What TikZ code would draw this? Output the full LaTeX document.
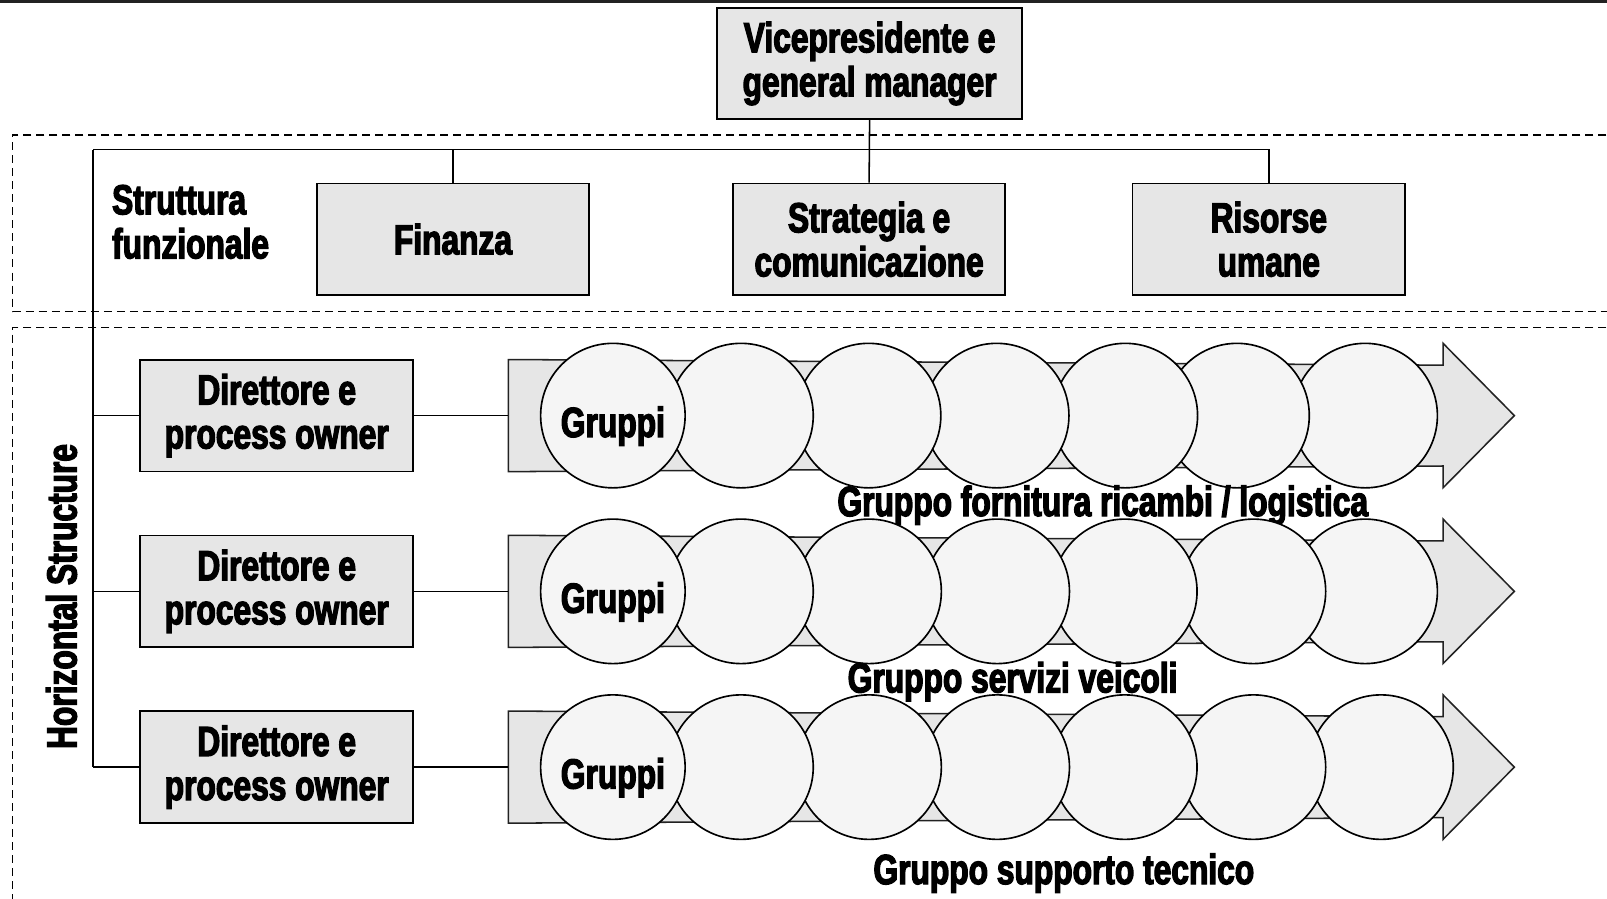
\documentclass[tikz,border=0pt]{standalone}
\usepackage{fontspec}
\newfontfamily\imp{Liberation Sans}[FakeStretch=0.755,BoldFeatures={FakeBold=3}]
\usetikzlibrary{calc,shapes.geometric}
\definecolor{boxgray}{HTML}{E6E6E6}
\definecolor{circgray}{HTML}{F5F5F5}
\definecolor{edgegray}{HTML}{222222}
\tikzset{
  txt/.style={font=\imp\bfseries\fontsize{20.5}{21.5}\selectfont, align=center, inner sep=0pt},
  ubox/.style={txt, draw=black, line width=0.9pt, fill=boxgray, minimum width=133pt, minimum height=54.5pt},
  conn/.style={draw=black, line width=0.75pt},
  dashbox/.style={draw=black, line width=0.65pt, dash pattern=on 3.9pt off 2.45pt},
  grp/.style={draw=black, line width=0.8pt, fill=circgray, ellipse, minimum width=70.5pt, minimum height=70.5pt, inner sep=0pt},
  blockarrow/.style={draw=edgegray, line width=0.75pt, fill=boxgray},
  lbl/.style={txt}
}
\begin{document}
\begin{tikzpicture}[x=0.5pt,y=-0.5pt]
\useasboundingbox (0,0) rectangle (1568,877);
\clip (0,0) rectangle (1568,877);
\fill[white] (0,0) rectangle (1568,877);
% top border
\draw[edgegray, line width=1.4pt] (0,1.2) -- (1568,1.2);
% dashed regions
\draw[dashbox] (1580,131.7) -- (12.4,131.7) -- (12.4,304) -- (1580,304);
\draw[dashbox] (1580,319.4) -- (12.4,319.4) -- (12.4,900);
% top nodes
\node[ubox, minimum width=148.5pt, minimum height=54pt] (vp) at (848.5,62) {Vicepresidente e\\general manager};
\node[ubox] (fin) at (442,233.5) {Finanza};
\node[ubox] (str) at (848,233.5) {Strategia e\\comunicazione};
\node[ubox] (ris) at (1238,233.5) {Risorse\\umane};
\node[txt, align=left, anchor=west] (sf) at (109,216.5) {Struttura\\funzionale};
\node[txt, rotate=90] (hs) at (60,582) {Horizontal Structure};
% bus
\coordinate (busL) at (91,146);
\draw[conn] (vp.south) -- (str.north);
\draw[conn] (busL) -- (busL -| ris.north) -- (ris.north);
\draw[conn] (fin.north) -- (fin.north |- busL);
% rows
\foreach \i/\y/\lab/\lx/\ly/\cs in {
  1/405.5/{Gruppo fornitura ricambi / logistica}/1076/493/{598,723,847.5,972.5,1098,1207,1332},
  2/577/{Gruppo servizi veicoli}/988/665/{598,723,848,973,1097.5,1223,1332},
  3/748.5/{Gruppo supporto tecnico}/1038/852/{598,723,848,973,1097.5,1223,1347.5}}{
  \node[ubox] (dir\i) at (270,\y) {Direttore e\\process owner};
  \coordinate (arr\i) at (496,\y);
  \draw[blockarrow] (496,\y-54.7) -- (1408,\y-49.2) -- (1408,\y-70.5) -- (1477.6,\y)
     -- (1408,\y+70.5) -- (1408,\y+49.2) -- (496,\y+54.7) -- cycle;
  \draw[conn] (dir\i.east) -- (arr\i);
  \draw[conn] (dir\i.west) -- (dir\i.west -| busL);
  \foreach \c [count=\k] in \cs {
    \coordinate (c\i-\k) at (\c,\y);
  }
  \foreach \k in {7,6,...,2} {
    \node[grp] (g\i-\k) at (c\i-\k) {};
  }
  \node[grp] (g\i-1) at (c\i-1) {};
  \node[txt, text depth=0pt, yshift=-3pt] (t\i) at (g\i-1) {Gruppi};
  \node[lbl] (l\i) at (\lx,\ly) {\lab};
}
\draw[conn] (busL) -- (busL |- dir3.west);
\end{tikzpicture}
\end{document}
